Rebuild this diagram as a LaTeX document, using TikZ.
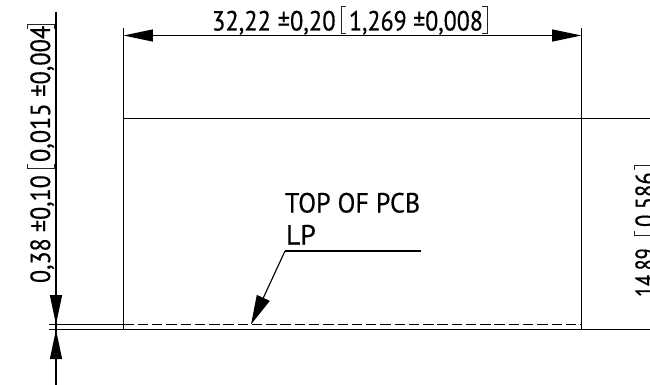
\documentclass[tikz,border=0pt]{standalone}
\usepackage{fontspec}
\setmainfont{PT Sans}[FakeBold=0.45]
\usetikzlibrary{arrows.meta}
\newcommand{\sx}[2]{\scalebox{#1}[1]{#2}}
\tikzset{
  ln/.style={line width=0.85pt,black},
  dashln/.style={line width=0.95pt,black},
  dim/.style={ln,{Triangle[length=22pt,width=9pt]}-{Triangle[length=22pt,width=9pt]}},
  tipend/.style={ln,-{Triangle[length=22pt,width=9pt]}},
  lbl/.style={inner sep=0pt,outer sep=0pt,font=\fontsize{20.8pt}{20.8pt}\selectfont,text=black},
  rlbl/.style={lbl,rotate=90},
  brk/.style={line width=0.6pt,black!85},
}
\begin{document}
\begin{tikzpicture}[x=0.75pt,y=-0.75pt]
\useasboundingbox (0,0) rectangle (650,385);
\clip (0,0) rectangle (650,385);
% coordinates
\coordinate (extLtop) at (123.5,28);
\coordinate (extLbot) at (123.5,330);
\coordinate (extRtop) at (581.5,28);
\coordinate (extRbot) at (581.5,330);
\coordinate (dimL) at (123.5,35.5);
\coordinate (dimR) at (581.5,35.5);
\coordinate (midL) at (123.5,118.5);
\coordinate (midR) at (650,118.5);
\coordinate (lowL) at (49,329.7);
\coordinate (lowR) at (650,329.7);
\coordinate (upL) at (49,324.5);
\coordinate (upM) at (123.5,324.5);
\coordinate (upR) at (581.5,324.5);
\coordinate (vTop) at (56,12);
\coordinate (vTip) at (56,324.5);
\coordinate (vTipB) at (56,329.7);
\coordinate (vBot) at (56,385);
\coordinate (ldrTip) at (251,324.5);
\coordinate (ldrKnee) at (285,251);
\coordinate (ldrEnd) at (421,251);
% outline
\draw[ln] (extLtop) -- (extLbot);
\draw[ln] (extRtop) -- (extRbot);
\draw[ln] (midL) -- (midR);
\draw[ln] (lowL) -- (lowR);
\draw[ln] (upL) -- (upM);
\draw[dashln,dash pattern=on 7.8pt off 2.9pt] (upM) -- (upR);
% dimensions
\draw[dim] (dimL) -- (dimR);
\draw[ln] (vTop) -- (vBot);
\draw[tipend] (vTop) -- (vTip);
\draw[tipend] (vBot) -- (vTipB);
% leader
\draw[ln,line width=1.05pt] (ldrEnd) -- (ldrKnee);
\draw[ln,-{Triangle[length=22pt,width=10.5pt]}] (ldrKnee) -- (ldrTip);
% top label
\node[lbl,anchor=base west] (t1) at (212,30.5) {\sx{.885}{32,22 ±0,20}};
\node[lbl,anchor=base west] (t2) at (349,30.5) {\sx{.865}{1,269 ±0,008}};
\draw[brk] (345.5,6.5) -- (341,6.5) -- (341,33) -- (345.5,33);
\draw[brk] (482,6.5) -- (487,6.5) -- (487,33) -- (482,33);
% left label
\node[rlbl,anchor=base west] (l1) at (50,283) {\sx{.865}{0,38 ±0,10}};
\node[rlbl,anchor=base west] (l2) at (50,162) {\sx{.88}{0,015 ±0,004}};
\draw[brk] (27.5,163.5) -- (27.5,168) -- (54.5,168) -- (54.5,163.5);
\draw[brk] (27.5,29) -- (27.5,24) -- (54.5,24) -- (54.5,29);
% right label
\node[rlbl,anchor=base west] (r1) at (655,297) {\sx{.73}{14,89}};
\node[rlbl,anchor=base west] (r2) at (655,227) {\sx{.82}{0,586}};
\draw[brk] (634,230.5) -- (634,235) -- (661,235) -- (661,230.5);
\draw[brk] (634,170) -- (634,165) -- (661,165) -- (661,170);
% callout
\node[lbl,anchor=base west] (c1) at (285,212.5) {\sx{.94}{TOP OF PCB}};
\node[lbl,anchor=base west] (c2) at (286,244.5) {\sx{1.0}{LP}};
\end{tikzpicture}
\end{document}
